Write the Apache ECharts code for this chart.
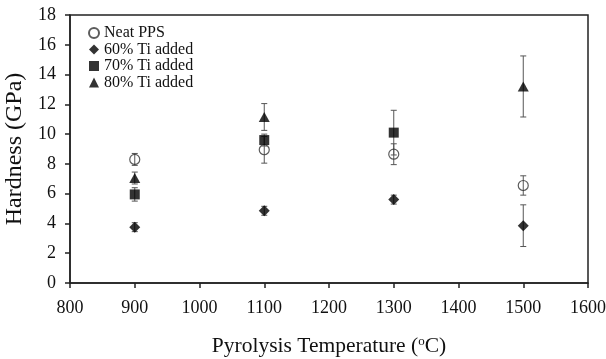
<!DOCTYPE html>
<html>
<head>
<meta charset="utf-8">
<script src="https://cdn.jsdelivr.net/npm/echarts@6/dist/echarts.min.js"></script>
<style>
  html, body { margin: 0; padding: 0; background: #fff; }
  #chart { width: 606px; height: 359px; }
</style>
</head>
<body>
<div id="chart"></div>
<script>
// Hardness vs. pyrolysis temperature, with standard-deviation error bars
const temperatures = [900, 1100, 1300, 1500];

const neatPPS    = [8.3, 8.95, 8.65, 6.55];
const neatPPSErr = [0.4, 0.9, 0.7, 0.65];

const ti60    = [3.75, 4.85, 5.6, 3.85];
const ti60Err = [0.3, 0.3, 0.3, 1.4];

const ti70    = [5.95, 9.6, 10.1, null];
const ti70Err = [0.45, 0.4, 1.5, null];

const ti80    = [7.05, 11.15, null, 13.2];
const ti80Err = [0.4, 0.9, null, 2.05];

const seriesNames = ['Neat PPS', '60% Ti added', '70% Ti added', '80% Ti added'];

const FONT = '"Liberation Serif", "Times New Roman", serif';

function points(values) {
  const out = [];
  temperatures.forEach((t, i) => { if (values[i] != null) out.push([t, values[i]]); });
  return out;
}

function ranges(values, errs) {
  const out = [];
  temperatures.forEach((t, i) => {
    if (values[i] != null) out.push([t, values[i] - errs[i], values[i] + errs[i]]);
  });
  return out;
}

function renderErrorBar(params, api) {
  const x = api.value(0);
  const top = api.coord([x, api.value(2)]);
  const bottom = api.coord([x, api.value(1)]);
  const half = 3;
  const style = { stroke: '#555', lineWidth: 1 };
  return {
    type: 'group',
    children: [
      { type: 'line', shape: { x1: top[0], y1: top[1], x2: bottom[0], y2: bottom[1] }, style },
      { type: 'line', shape: { x1: top[0] - half, y1: top[1], x2: top[0] + half, y2: top[1] }, style },
      { type: 'line', shape: { x1: bottom[0] - half, y1: bottom[1], x2: bottom[0] + half, y2: bottom[1] }, style }
    ]
  };
}

function errorSeries(values, errs) {
  return {
    type: 'custom',
    renderItem: renderErrorBar,
    data: ranges(values, errs),
    encode: { x: 0, y: [1, 2] },
    silent: true,
    z: 1
  };
}

const plainNumber = v => String(v);

const chart = echarts.init(document.getElementById('chart'), null, { renderer: 'canvas' });

chart.setOption({
  animation: false,
  backgroundColor: '#fff',
  grid: {
    left: 70, right: 18, top: 15, bottom: 76,
    outerBoundsMode: 'none',
    containLabel: false,
    show: true, borderColor: '#222', borderWidth: 1.5
  },
  legend: {
    data: seriesNames,
    orient: 'vertical',
    left: 83, top: 20,
    itemWidth: 10, itemHeight: 10,
    itemGap: 0.5,
    textStyle: { fontFamily: FONT, fontSize: 16, color: '#111', lineHeight: 16 },
    selectedMode: false
  },
  xAxis: {
    type: 'value',
    min: 800, max: 1600, interval: 100,
    name: '{t|Pyrolysis Temperature (}{s|o}{t|C)}',
    nameLocation: 'middle',
    nameGap: 52,
    nameTextStyle: {
      rich: {
        t: { fontFamily: FONT, fontSize: 21.5, color: '#111' },
        s: { fontFamily: FONT, fontSize: 13, color: '#111', verticalAlign: 'top', padding: [0, 0, 10, 0] }
      }
    },
    axisLine: { lineStyle: { color: '#222', width: 1.5 } },
    axisTick: { show: true, inside: false, length: 5, lineStyle: { color: '#222', width: 1.5 } },
    axisLabel: { fontFamily: FONT, fontSize: 18, color: '#111', margin: 16, formatter: plainNumber },
    splitLine: { show: false }
  },
  yAxis: {
    type: 'value',
    min: 0, max: 18, interval: 2,
    name: 'Hardness (GPa)',
    nameLocation: 'middle',
    nameGap: 34,
    nameRotate: 90,
    nameTextStyle: { fontFamily: FONT, fontSize: 24, color: '#111' },
    axisLine: { lineStyle: { color: '#222', width: 1.5 } },
    axisTick: { show: true, inside: false, length: 5, lineStyle: { color: '#222', width: 1.5 } },
    axisLabel: { fontFamily: FONT, fontSize: 18, color: '#111', margin: 14, formatter: plainNumber },
    splitLine: { show: false }
  },
  series: [
    errorSeries(neatPPS, neatPPSErr),
    errorSeries(ti60, ti60Err),
    errorSeries(ti70, ti70Err),
    errorSeries(ti80, ti80Err),
    {
      name: seriesNames[0], type: 'scatter', symbol: 'circle', symbolSize: 10,
      data: points(neatPPS), z: 3,
      itemStyle: { color: 'rgba(255,255,255,0)', borderColor: '#333', borderWidth: 1.2 }
    },
    {
      name: seriesNames[1], type: 'scatter', symbol: 'diamond', symbolSize: 11,
      data: points(ti60), z: 3,
      itemStyle: { color: '#000' }
    },
    {
      name: seriesNames[2], type: 'scatter', symbol: 'rect', symbolSize: 10,
      data: points(ti70), z: 3,
      itemStyle: { color: '#000' }
    },
    {
      name: seriesNames[3], type: 'scatter', symbol: 'triangle', symbolSize: [11, 10],
      data: points(ti80), z: 3,
      itemStyle: { color: '#000' }
    }
  ]
});
</script>
</body>
</html>
